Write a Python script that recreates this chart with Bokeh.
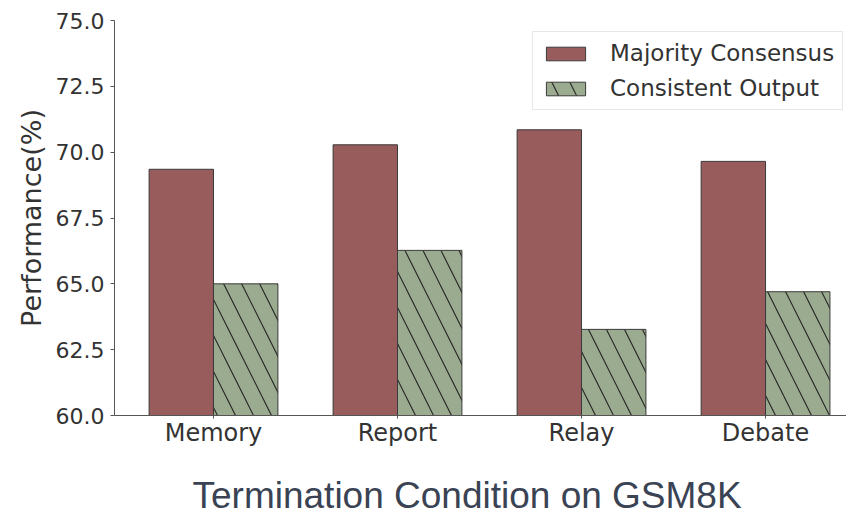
from bokeh.plotting import figure
from bokeh.models import Range1d, FixedTicker, Legend, LegendItem, Label
from bokeh.embed import file_html
from bokeh.resources import INLINE

categories = ["Memory", "Report", "Relay", "Debate"]
majority_consensus = [69.35, 70.28, 70.85, 69.65]
consistent_output = [65.0, 66.27, 63.27, 64.7]
y_ticks = [60.0, 62.5, 65.0, 67.5, 70.0, 72.5, 75.0]
x_title = "Termination Condition on GSM8K"

xs = list(range(len(categories)))
bw = 0.35
x0, x1 = -0.538, 3.44
y0, y1 = 60, 75

p = figure(width=846, height=509, output_backend="svg", toolbar_location=None,
           x_range=Range1d(x0, x1), y_range=Range1d(y0, y1),
           min_border_left=114, min_border_right=0, min_border_top=20, min_border_bottom=94)
p.outline_line_color = None
p.grid.grid_line_color = None
p.background_fill_color = "white"

r1 = p.vbar(x=[x - bw / 2 for x in xs], top=majority_consensus, bottom=y0, width=bw,
            fill_color="#985c5c", line_color="#3a3a3a", line_width=1)
r2 = p.vbar(x=[x + bw / 2 for x in xs], top=consistent_output, bottom=y0, width=bw,
            fill_color="#9bab8f", line_color="#3a3a3a", line_width=1,
            hatch_pattern="\\", hatch_color="#2a2a2a", hatch_scale=36, hatch_weight=1.2)

font = "DejaVu Sans"
for ax in (p.xaxis[0], p.yaxis[0]):
    ax.axis_line_color = "#555555"
    ax.major_tick_line_color = "#555555"
    ax.major_tick_in = 0
    ax.minor_tick_line_color = None
    ax.major_label_text_font = font
    ax.major_label_text_color = "#333333"

p.yaxis.ticker = FixedTicker(ticks=y_ticks)
p.yaxis.major_tick_out = 4
p.yaxis.major_label_overrides = {t: f"{t:.1f}" for t in y_ticks}
p.yaxis.major_label_text_font_size = "22px"
p.yaxis.major_label_standoff = 6
p.yaxis.axis_label = "Performance(%)"
p.yaxis.axis_label_text_font = font
p.yaxis.axis_label_text_font_size = "27px"
p.yaxis.axis_label_text_font_style = "normal"
p.yaxis.axis_label_text_color = "#333333"
p.yaxis.axis_label_standoff = 6

p.xaxis.ticker = FixedTicker(ticks=xs)
p.xaxis.major_tick_out = 3
p.xaxis.major_label_overrides = {i: c for i, c in enumerate(categories)}
p.xaxis.major_label_text_font_size = "24px"
p.xaxis.major_label_standoff = 0

legend = Legend(items=[LegendItem(label="Majority Consensus", renderers=[r1]),
                       LegendItem(label="Consistent Output", renderers=[r2])],
                location=(418, 305), label_text_font=font, label_text_font_size="23px",
                label_text_color="#333333", glyph_width=49, glyph_height=17,
                label_standoff=20, spacing=9, padding=8, label_height=26,
                border_line_color="#d0d0d0", border_line_width=1,
                background_fill_color="white", background_fill_alpha=0.8)
p.add_layout(legend, "center")

# x-axis title in the bottom panel
lab = Label(x=78, y=-5, x_units="screen", y_units="screen", text=x_title,
            text_font="Liberation Sans", text_font_size="37px",
            text_color="#3a4354", text_baseline="alphabetic", text_align="left")
p.add_layout(lab, "below")

open("out.html", "w").write(file_html(p, INLINE))
